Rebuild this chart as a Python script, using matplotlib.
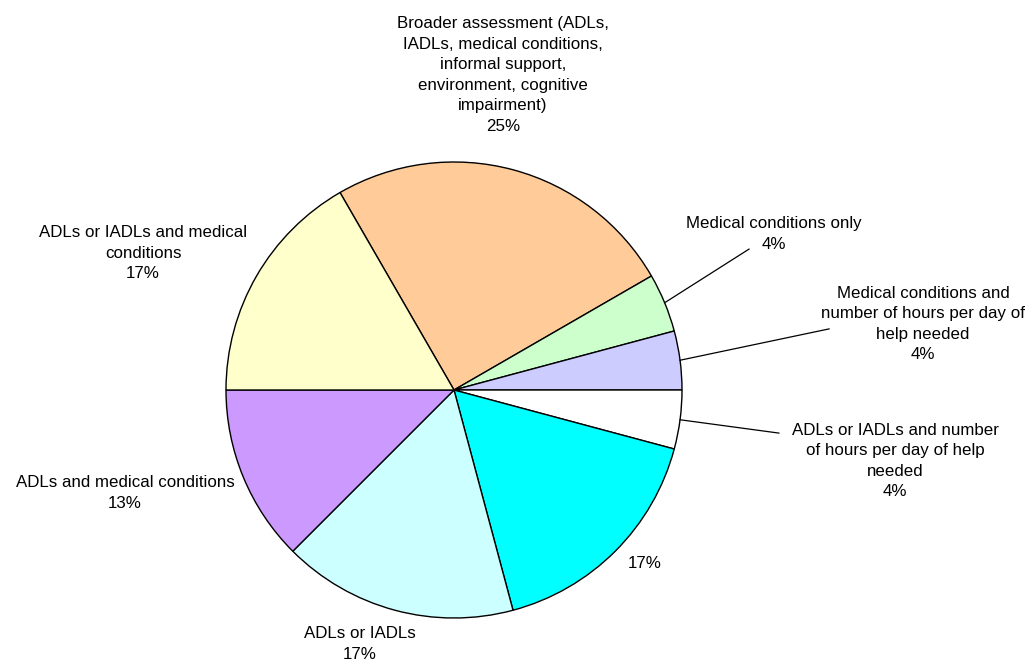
import math
import numpy as np
import matplotlib
matplotlib.use("Agg")
import matplotlib.pyplot as plt

# number of programmes per type of eligibility assessment
categories = [
    "Broader assessment (ADLs,\nIADLs, medical conditions,\ninformal support,\nenvironment, cognitive\nimpairment)",
    "Medical conditions only",
    "Medical conditions and\nnumber of hours per day of\nhelp needed",
    "ADLs or IADLs and number\nof hours per day of help\nneeded",
    "",
    "ADLs or IADLs",
    "ADLs and medical conditions",
    "ADLs or IADLs and medical\nconditions",
]
counts = [6, 1, 1, 1, 4, 4, 3, 4]
colors = ["#FFCC99", "#CCFFCC", "#CCCCFF", "#FFFFFF",
          "#00FFFF", "#CCFFFF", "#CC99FF", "#FFFFCC"]

# label centres (in pie radii) and leader line ends (None = no leader)
label_pos = [(0.215, 1.382), (1.404, 0.684), (2.057, 0.289), (1.934, -0.311),
             (0.838, -0.759), (-0.412, -1.114), (-1.443, -0.452), (-1.364, 0.599)]
leader_end = [None, (1.294, 0.618), (1.645, 0.268), (1.425, -0.189),
              None, None, None, None]

plt.rcParams['font.family'] = ['Liberation Sans', 'DejaVu Sans']

fig = plt.figure(figsize=(10.32, 6.64), dpi=100)
ax = fig.add_axes([0, 0, 1, 1])

start = 120
wedges, _ = ax.pie(counts, colors=colors, startangle=start, counterclock=False,
                   radius=1.0, wedgeprops=dict(edgecolor='black', linewidth=1.0))

r_px = 228.0
ax.set_xlim(-454 / r_px, (1032 - 454) / r_px)
ax.set_ylim(-(664 - 390) / r_px, 390 / r_px)
ax.axis('off')

total = float(sum(counts))
for w, name, cnt, pos, end in zip(wedges, categories, counts, label_pos, leader_end):
    pct = "%d%%" % math.floor(100 * cnt / total + 0.5)
    txt = name + "\n" + pct if name else pct
    ax.text(pos[0], pos[1], txt, ha='center', va='center', fontsize=12.2,
            linespacing=1.46, color='black')
    if end is not None:
        mid = np.deg2rad((w.theta1 + w.theta2) / 2)
        ax.plot([np.cos(mid), end[0]], [np.sin(mid), end[1]], color='black', lw=0.9)

fig.savefig("out.png", dpi=100)
